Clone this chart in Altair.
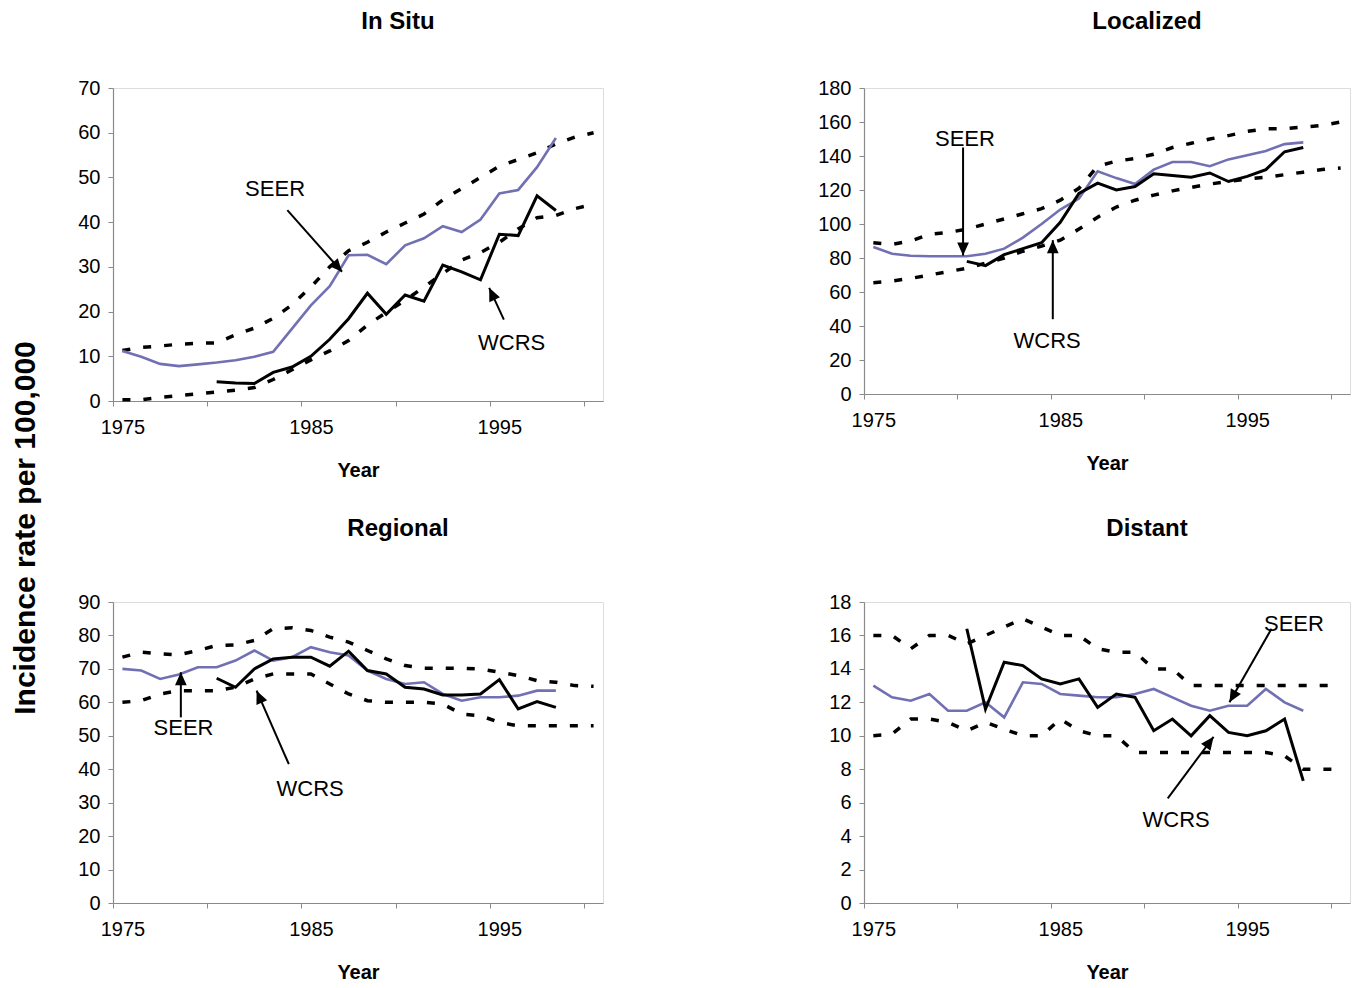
import math
import altair as alt
import pandas as pd

YEARS_BOUNDS = list(range(1975, 2001))
YEARS_SEER = list(range(1975, 1999))
YEARS_WCRS = list(range(1980, 1999))

# ---- In Situ ----
insitu_seer = [11.2, 9.9, 8.3, 7.8, 8.2, 8.6, 9.1, 9.9, 11.0, 16.2, 21.4, 25.7, 32.6, 32.7, 30.6,
               34.8, 36.4, 39.1, 37.8, 40.6, 46.4, 47.2, 52.3, 58.8]
insitu_wcrs = [4.3, 4.0, 3.9, 6.4, 7.6, 10.0, 13.8, 18.4, 24.1, 19.4, 23.7, 22.3, 30.4, 28.9, 27.1,
               37.3, 37.0, 45.9, 42.6]
insitu_upper = [11.3, 12.0, 12.3, 12.7, 12.9, 13.0, 14.8, 16.3, 18.5, 21.5, 25.5, 30.0, 33.6, 35.5,
                37.8, 39.8, 41.8, 45.0, 47.5, 50.0, 52.5, 54.0, 55.5, 57.5, 59.0, 60.0]
insitu_lower = [0.3, 0.3, 0.8, 1.2, 1.6, 2.0, 2.4, 3.0, 4.8, 7.0, 9.2, 11.2, 13.5, 17.0, 19.8, 22.5,
                25.5, 28.5, 31.5, 33.2, 35.5, 38.5, 41.0, 41.5, 43.0, 44.0]
insitu_labels = ["SEER", "WCRS"]
insitu_label_x = [1983.1, 1995.65]
insitu_label_y = [47.5, 13.0]
insitu_tail_x = [1983.75, 1995.24]
insitu_tail_y = [42.7, 18.2]
insitu_head_x = [1986.65, 1994.46]
insitu_head_y = [28.9, 25.3]

# ---- Localized ----
loc_seer = [86.5, 82.5, 81.3, 81.0, 81.0, 81.0, 82.5, 85.5, 92.0, 100.0, 108.5, 115.0, 131.0, 127.0,
            123.5, 132.0, 136.5, 136.5, 134.0, 138.0, 140.5, 143.0, 147.0, 148.0]
loc_wcrs = [78.0, 75.5, 82.0, 85.5, 89.0, 101.0, 118.0, 124.0, 120.0, 122.0, 129.5, 128.5, 127.5,
            130.0, 125.0, 128.0, 132.0, 142.5, 145.0]
loc_upper = [89, 88, 90, 94, 95, 97, 100, 103, 106, 109, 114, 121, 134, 137, 138.5, 141, 145, 147.5,
             150, 152, 154.5, 156, 156, 157, 158, 160]
loc_lower = [65.5, 66.5, 68, 70, 72, 74, 77, 80, 84, 87, 90.5, 97, 104, 110, 114, 117, 119.5, 121.5,
             123.5, 125, 126.5, 127.5, 129, 130.5, 132, 133]
loc_labels = ["SEER", "WCRS"]
loc_label_x = [1979.9, 1984.3]
loc_label_y = [150.0, 31.0]
loc_tail_x = [1979.8, 1984.6]
loc_tail_y = [145.0, 44.0]
loc_head_x = [1979.8, 1984.6]
loc_head_y = [81.5, 90.5]

# ---- Regional ----
reg_seer = [70.0, 69.5, 67.0, 68.3, 70.5, 70.5, 72.5, 75.5, 72.5, 73.5, 76.5, 75.0, 74.0, 69.5, 67.0,
            65.5, 66.0, 62.5, 60.5, 61.5, 61.5, 62.0, 63.5, 63.5]
reg_wcrs = [67.2, 64.5, 70.0, 73.0, 73.5, 73.5, 70.8, 75.3, 69.5, 68.5, 64.5, 64.0, 62.2, 62.2, 62.5,
            66.8, 58.0, 60.2, 58.5]
reg_upper = [73.5, 75.0, 74.5, 74.2, 75.5, 77.0, 77.2, 78.5, 82.0, 82.3, 81.5, 79.5, 78.0, 75.5, 73.0,
             71.0, 70.2, 70.2, 70.2, 70.0, 69.0, 68.0, 66.5, 66.0, 65.0, 64.8]
reg_lower = [60.0, 60.5, 62.5, 63.5, 63.5, 63.5, 64.5, 67.0, 68.5, 68.5, 68.5, 65.5, 62.5, 60.5, 60.0,
             60.0, 60.0, 59.5, 56.5, 56.0, 54.0, 53.0, 53.0, 53.0, 53.0, 53.0]
reg_labels = ["SEER", "WCRS"]
reg_label_x = [1978.24, 1984.96]
reg_label_y = [52.2, 34.2]
reg_tail_x = [1978.1, 1983.83]
reg_tail_y = [55.5, 41.5]
reg_head_x = [1978.1, 1982.12]
reg_head_y = [69.0, 63.5]

# ---- Distant ----
dis_seer = [13.0, 12.3, 12.1, 12.5, 11.5, 11.5, 12.0, 11.1, 13.2, 13.1, 12.5, 12.4, 12.3, 12.3, 12.5,
            12.8, 12.3, 11.8, 11.5, 11.8, 11.8, 12.8, 12.0, 11.5]
dis_wcrs = [16.4, 11.6, 14.4, 14.2, 13.4, 13.1, 13.4, 11.7, 12.5, 12.3, 10.3, 11.0, 10.0, 11.2, 10.2,
            10.0, 10.3, 11.0, 7.3]
dis_upper = [16, 16, 15.2, 16, 16, 15.5, 16, 16.5, 17, 16.5, 16, 16, 15.2, 15, 15, 14, 14, 13, 13, 13,
             13, 13, 13, 13, 13, 13]
dis_lower = [10, 10.1, 11, 11, 10.8, 10.3, 10.8, 10.4, 10, 10, 11, 10.3, 10, 10, 9, 9, 9, 9, 9, 9, 9,
             9, 8.8, 8, 8, 8]
dis_labels = ["SEER", "WCRS"]
dis_label_x = [1997.5, 1991.2]
dis_label_y = [16.7, 4.97]
dis_tail_x = [1996.3, 1990.75]
dis_tail_y = [16.4, 6.26]
dis_head_x = [1994.05, 1993.2]
dis_head_y = [12.0, 9.94]

FONT = "Liberation Sans"
SEER_COLOR = "#7070B3"
AXIS_GRAY = "#8a8a8a"
X_DOMAIN = [1974.5, 2000.5]
X_TICKS = [1974.5, 1979.5, 1984.5, 1989.5, 1994.5, 1999.5]
LABEL_EXPR = ("datum.value == 1974.5 ? '1975' : datum.value == 1984.5 ? '1985' : "
              "datum.value == 1994.5 ? '1995' : ''")
HEAD_PATH = "M0,0 L0.45,1 L-0.45,1 Z"


def panel(title, seer, wcrs, upper, lower, ymax, ystep, width, height, title_offset,
          labels, label_x, label_y, tail_x, tail_y, head_x, head_y):
    rows = []
    for name, yrs, vals in (("upper", YEARS_BOUNDS, upper), ("lower", YEARS_BOUNDS, lower),
                            ("SEER", YEARS_SEER, seer), ("WCRS", YEARS_WCRS, wcrs)):
        for yr, v in zip(yrs, vals):
            rows.append({"series": name, "year": yr, "value": v})
    df = pd.DataFrame(rows)

    cat_w = width / (X_DOMAIN[1] - X_DOMAIN[0])
    px_per_unit = height / ymax

    ann = pd.DataFrame({"label": labels, "year": label_x, "value": label_y})
    angles = []
    for tx, ty, hx, hy in zip(tail_x, tail_y, head_x, head_y):
        dx = (hx - tx) * cat_w
        dy = -(hy - ty) * px_per_unit
        angles.append(math.degrees(math.atan2(dx, -dy)) % 360)
    arrows = pd.DataFrame({"year": tail_x, "value": tail_y, "year2": head_x, "value2": head_y})
    heads = pd.DataFrame({"year": head_x, "value": head_y, "angle": angles})

    x_enc = alt.X("year:Q",
                  scale=alt.Scale(domain=X_DOMAIN, nice=False, zero=False),
                  axis=alt.Axis(values=X_TICKS, labelExpr=LABEL_EXPR, labelOffset=cat_w / 2,
                                labelFlush=False, labelOverlap=False, grid=False,
                                title="Year", titleFontSize=20, titleFontWeight="bold",
                                titleFont=FONT, titleColor="black", titlePadding=23,
                                labelFont=FONT, labelFontSize=20, labelColor="black",
                                labelPadding=11, tickSize=5, tickColor=AXIS_GRAY,
                                domainColor=AXIS_GRAY, domainWidth=1.2))
    y_enc = alt.Y("value:Q",
                  scale=alt.Scale(domain=[0, ymax], nice=False, zero=True),
                  axis=alt.Axis(values=list(range(0, ymax + 1, ystep)), title=None, grid=False,
                                labelFont=FONT, labelFontSize=20, labelColor="black",
                                labelPadding=8, tickSize=5, tickColor=AXIS_GRAY,
                                domainColor=AXIS_GRAY, domainWidth=1.2, labelOverlap=False))

    base = alt.Chart(df)
    dashed = base.transform_filter(
        alt.FieldOneOfPredicate(field="series", oneOf=["upper", "lower"])
    ).mark_line(color="black", strokeWidth=3.5, strokeDash=[8, 13]).encode(
        x=x_enc, y=y_enc, detail="series:N")
    seer_line = base.transform_filter(alt.datum.series == "SEER").mark_line(
        color=SEER_COLOR, strokeWidth=2.6).encode(x=x_enc, y=y_enc)
    wcrs_line = base.transform_filter(alt.datum.series == "WCRS").mark_line(
        color="black", strokeWidth=3).encode(x=x_enc, y=y_enc)
    shafts = alt.Chart(arrows).mark_rule(color="black", strokeWidth=2).encode(
        x=x_enc, y=y_enc, x2="year2:Q", y2="value2:Q")
    tips = alt.Chart(heads).mark_point(shape=HEAD_PATH, filled=True, size=676, color="black",
                                       opacity=1, strokeWidth=0).encode(
        x=x_enc, y=y_enc, angle=alt.Angle("angle:Q", scale=None))
    texts = alt.Chart(ann).mark_text(font=FONT, fontSize=22, color="black", align="center",
                                     baseline="middle").encode(x=x_enc, y=y_enc, text="label:N")

    return alt.layer(dashed, seer_line, wcrs_line, shafts, tips, texts).properties(
        width=width, height=height,
        title=alt.TitleParams(text=title, font=FONT, fontSize=24, fontWeight="bold",
                              color="black", anchor="middle", dx=40, offset=title_offset))


p1 = panel("In Situ", insitu_seer, insitu_wcrs, insitu_upper, insitu_lower, 70, 10, 490, 313, 44,
           insitu_labels, insitu_label_x, insitu_label_y, insitu_tail_x, insitu_tail_y,
           insitu_head_x, insitu_head_y)
p2 = panel("Localized", loc_seer, loc_wcrs, loc_upper, loc_lower, 180, 20, 486, 306, 44,
           loc_labels, loc_label_x, loc_label_y, loc_tail_x, loc_tail_y, loc_head_x, loc_head_y)
p3 = panel("Regional", reg_seer, reg_wcrs, reg_upper, reg_lower, 90, 10, 490, 301, 51,
           reg_labels, reg_label_x, reg_label_y, reg_tail_x, reg_tail_y, reg_head_x, reg_head_y)
p4 = panel("Distant", dis_seer, dis_wcrs, dis_upper, dis_lower, 18, 2, 486, 301, 51,
           dis_labels, dis_label_x, dis_label_y, dis_tail_x, dis_tail_y, dis_head_x, dis_head_y)

chart = alt.concat(p1, p2, p3, p4, columns=2, spacing={"row": 35, "column": 213}).properties(
    align="each",
    padding={"left": 3, "top": 1, "right": 0, "bottom": 0},
    title=alt.TitleParams(text="Incidence rate per 100,000", orient="left", anchor="middle",
                          font=FONT, fontSize=30, fontWeight="bold", color="black",
                          offset=36, dx=-32),
).configure_view(stroke="transparent").configure(background="white")

chart.save("out.html", embed_options={"renderer": "svg", "actions": False})
